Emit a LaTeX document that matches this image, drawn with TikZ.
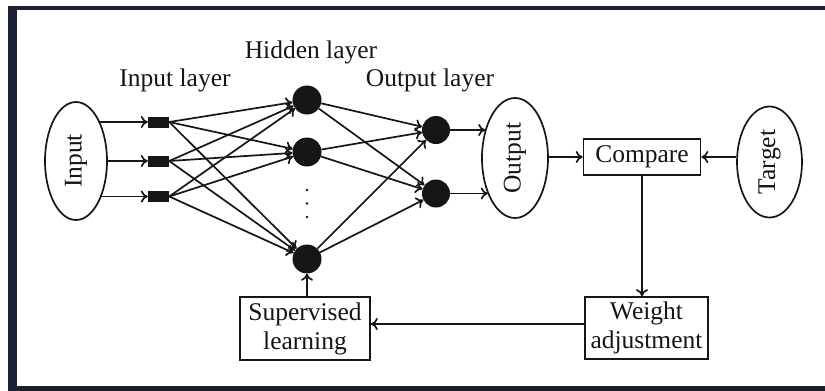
\documentclass[tikz,border=0pt]{standalone}
\usepackage{fontspec}
\setmainfont{Liberation Serif}
\usetikzlibrary{shapes.geometric,arrows.meta}
\definecolor{frame}{HTML}{1C2030}
\definecolor{ink}{HTML}{161616}
\begin{document}
\begin{tikzpicture}[x=1pt,y=-1pt,
  every node/.style={font=\fontsize{25.5}{31}\selectfont, text=ink},
  conn/.style={draw=ink, line width=1.7pt, -{To[length=7pt,width=12pt]}},
  ell/.style={ellipse, draw=ink, line width=1.7pt, inner sep=0pt},
  box/.style={rectangle, draw=ink, line width=1.7pt, inner sep=2pt, align=center},
  sq/.style={rectangle, fill=ink, minimum width=21pt, minimum height=11pt, inner sep=0pt},
  neuron/.style={circle, fill=ink, inner sep=0pt},
  dotn/.style={circle, fill=ink, inner sep=0pt, minimum size=2.8pt},
  lbl/.style={inner sep=0pt}]
\useasboundingbox (0,0) rectangle (825,391);
\fill[white] (0,0) rectangle (825,391);
% frame
\fill[frame] (8,6) rectangle (825,10);
\fill[frame] (8,6) rectangle (17,391);
\fill[frame] (8,385.5) rectangle (825,391);

% ellipses
\node[ell, minimum width=62pt, minimum height=118pt] (inp) at (76,161) {\rotatebox{90}{Input}};
\node[ell, minimum width=66pt, minimum height=120pt] (out) at (515,158) {\rotatebox{90}{Output}};
\node[ell, minimum width=65pt, minimum height=111pt] (tgt) at (769.5,162) {\rotatebox{90}{Target}};

% input layer squares
\node[sq] (s1) at (158.5,122) {};
\node[sq] (s2) at (158.5,161) {};
\node[sq] (s3) at (158.5,196.5) {};

% hidden neurons
\node[neuron, minimum size=29pt] (h1) at (307,100) {};
\node[neuron, minimum size=29pt] (h2) at (307,152) {};
\node[neuron, minimum size=29pt] (h3) at (307,259) {};
\node[dotn] (d1) at (307,190) {};
\node[dotn] (d2) at (307,203.5) {};
\node[dotn] (d3) at (307,217) {};

% output neurons
\node[neuron, minimum size=28pt] (o1) at (436,130) {};
\node[neuron, minimum size=28pt] (o2) at (436,193.5) {};

% boxes
\node[box, minimum width=117pt, minimum height=36pt] (cmp) at (642,157) {Compare};
\node[box, minimum width=123pt, minimum height=62pt] (wadj) at (646.5,328) {Weight\\[-2pt]adjustment};
\node[box, minimum width=130pt, minimum height=63pt] (sup) at (305,328.5) {Supervised\\[-2pt]learning};

% labels
\node[lbl] (linp) at (175,80) {Input layer};
\node[lbl] (lhid) at (311,52) {Hidden layer};
\node[lbl] (lout) at (430,80) {Output layer};

% input ellipse -> squares
\draw[conn] (inp.59 |- s1) -- (s1.west);
\draw[conn] (inp.east |- s2) -- (s2.west);
\draw[conn] (inp.-55 |- s3) -- (s3.west);

% squares -> hidden
\foreach \s in {s1,s2,s3}{
  \foreach \h in {h1,h2,h3}{
    \draw[conn] (\s.east) -- (\h);
  }
}
% hidden -> output
\foreach \h in {h1,h2,h3}{
  \foreach \o in {o1,o2}{
    \draw[conn] (\h) -- (\o);
  }
}
% output neurons -> output ellipse
\draw[conn] (o1) -- (out.136 |- o1);
\draw[conn] (o2) -- (out.233 |- o2);

% output -> compare, target -> compare
\draw[conn] (out.east |- cmp) -- (cmp.west);
\draw[conn] (tgt.west |- cmp) -- (cmp.east);

% compare -> weight adjustment
\draw[conn] (cmp.south) -- (cmp.south |- wadj.north);
% weight adjustment -> supervised learning
\draw[conn] (wadj.west |- 0,324) -- (sup.east |- 0,324);
% supervised learning -> hidden neuron
\draw[conn] (sup.north -| h3) -- (h3);
\end{tikzpicture}
\end{document}
